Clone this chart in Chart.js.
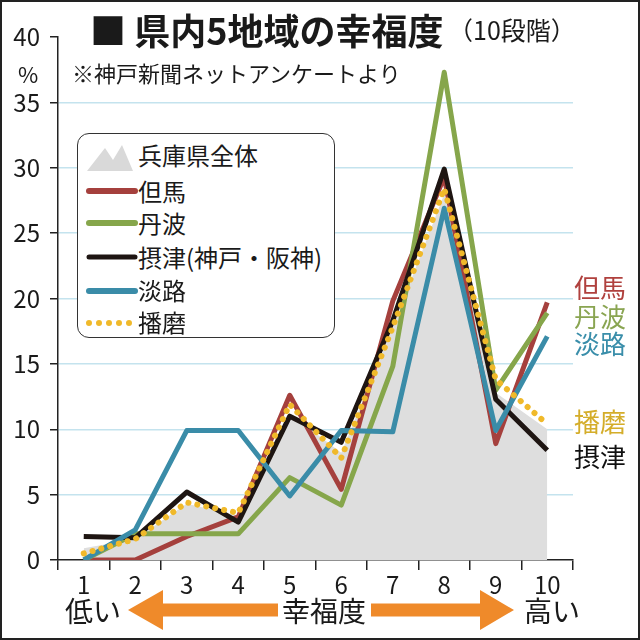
<!DOCTYPE html>
<html lang="ja">
<head>
<meta charset="utf-8">
<title>県内5地域の幸福度</title>
<script src="https://cdn.jsdelivr.net/npm/chart.js@4.4.1/dist/chart.umd.min.js"></script>
<style>
  body { margin: 0; background: #fff; font-family: "Noto Sans CJK JP", sans-serif; }
  #wrap { position: relative; width: 640px; height: 640px; overflow: hidden; background: #fff; }
  #chartBox { position: absolute; left: 0; top: 0; width: 640px; height: 640px; }
  .txt { position: absolute; white-space: nowrap; line-height: 1; color: #1a1a1a; }
  #frame { position: absolute; left: 0; top: 0; width: 636px; height: 636px; border: 2px solid #222; pointer-events: none; }
  #legend { position: absolute; left: 77px; top: 133px; width: 256px; height: 203px; border: 1.5px solid #333; border-radius: 12px; background: #fff; }
  svg { position: absolute; left: 0; top: 0; }
</style>
</head>
<body>
<div id="wrap">
  <div id="chartBox"><canvas id="chart"></canvas></div>

  <!-- titre et note -->
  <div class="txt" style="left:90px; top:11px; font-size:36px; font-weight:700;">■ 県内5地域の幸福度</div>
  <div class="txt" style="left:448px; top:17px; font-size:25px;">（10段階）</div>
  <div class="txt" style="left:72px; top:61px; font-size:22px;">※神戸新聞ネットアンケートより</div>
  <div class="txt" style="left:18px; top:62px; font-size:22px; font-family:'Liberation Sans Narrow','Noto Sans CJK JP',sans-serif;">%</div>

  <!-- légende -->
  <div id="legend"></div>
  <svg width="640" height="640" id="deco">
    <polygon points="87,171 105,148 113,160 122,145 133,171" fill="#d9d9d9"/>
    <line x1="89" y1="191" x2="135" y2="191" stroke="#a5403d" stroke-width="6" stroke-linecap="round"/>
    <line x1="89" y1="223" x2="135" y2="223" stroke="#86a64b" stroke-width="6" stroke-linecap="round"/>
    <line x1="89" y1="257" x2="135" y2="257" stroke="#1e1512" stroke-width="5" stroke-linecap="round"/>
    <line x1="89" y1="291" x2="135" y2="291" stroke="#3a8ca8" stroke-width="6" stroke-linecap="round"/>
    <line x1="89" y1="323" x2="131" y2="323" stroke="#f0b92a" stroke-width="6" stroke-linecap="round" stroke-dasharray="0 10"/>
    <!-- flèches -->
    <polygon points="128,610 163,590 163,603.5 278,603.5 278,616.5 163,616.5 163,630" fill="#ef8a2a"/>
    <polygon points="514,610 480,590 480,603.5 371,603.5 371,616.5 480,616.5 480,630" fill="#ef8a2a"/>
  </svg>
  <div class="txt" style="left:138px; top:143px; font-size:24px;">兵庫県全体</div>
  <div class="txt" style="left:138px; top:179px; font-size:24px;">但馬</div>
  <div class="txt" style="left:138px; top:211px; font-size:24px;">丹波</div>
  <div class="txt" style="left:138px; top:245px; font-size:24px;">摂津(神戸・阪神)</div>
  <div class="txt" style="left:138px; top:278px; font-size:24px;">淡路</div>
  <div class="txt" style="left:138px; top:310px; font-size:24px;">播磨</div>

  <!-- étiquettes à droite -->
  <div class="txt" style="left:574px; top:274px; font-size:26px; color:#b0413e;">但馬</div>
  <div class="txt" style="left:574px; top:303px; font-size:26px; color:#8aa552;">丹波</div>
  <div class="txt" style="left:574px; top:330px; font-size:26px; color:#3a8eaa;">淡路</div>
  <div class="txt" style="left:574px; top:408px; font-size:26px; color:#d4ad2a;">播磨</div>
  <div class="txt" style="left:574px; top:443px; font-size:26px; color:#111;">摂津</div>

  <!-- axe du bas -->
  <div class="txt" style="left:65px; top:596px; font-size:28px;">低い</div>
  <div class="txt" style="left:282px; top:596px; font-size:28px;">幸福度</div>
  <div class="txt" style="left:524px; top:596px; font-size:28px;">高い</div>

  <div id="frame"></div>
</div>

<script>
// données (%)
const labels = ['1', '2', '3', '4', '5', '6', '7', '8', '9', '10'];
const hyogo  = [0.9, 1.6, 4.3, 3.4, 11.2, 8.2, 17.8, 28.0, 12.8, 10.0];
const tajima = [0, 0, 1.8, 3.3, 12.6, 5.4, 19.8, 29.3, 8.9, 19.7];
const tamba  = [0, 2.0, 2.0, 2.0, 6.3, 4.2, 14.8, 37.3, 13.0, 18.9];
const settsu = [1.8, 1.7, 5.2, 2.9, 11.0, 9.0, 18.3, 29.9, 12.3, 8.4];
const awaji  = [0, 2.3, 9.9, 9.9, 4.9, 9.9, 9.8, 26.9, 9.9, 17.1];
const harima = [0.5, 1.6, 4.4, 3.6, 11.9, 7.8, 17.8, 28.4, 13.8, 10.4];
const yMax = 40;
const yStep = 5;

const numFont = '"Liberation Sans Narrow", "Noto Sans CJK JP", sans-serif';

function lineSet(label, data, color, order) {
    return {
        label: label,
        data: data,
        borderColor: color,
        borderWidth: 5,
        pointRadius: 0,
        tension: 0,
        fill: false,
        borderJoinStyle: 'round',
        order: order
    };
}

const ctx = document.getElementById('chart').getContext('2d');

new Chart(ctx, {
    type: 'line',
    data: {
        labels: labels,
        datasets: [
            {
                label: '兵庫県全体',
                data: hyogo,
                borderWidth: 0,
                borderColor: 'rgba(0,0,0,0)',
                backgroundColor: '#dedede',
                pointRadius: 0,
                tension: 0,
                fill: 'origin',
                order: 6
            },
            lineSet('但馬', tajima, '#a5403d', 5),
            lineSet('丹波', tamba, '#86a64b', 4),
            lineSet('摂津(神戸・阪神)', settsu, '#1e1512', 3),
            lineSet('淡路', awaji, '#3a8ca8', 2),
            Object.assign(lineSet('播磨', harima, '#f0b92a', 1), {
                borderWidth: 6,
                borderDash: [0.1, 9],
                borderCapStyle: 'round'
            })
        ]
    },
    options: {
        responsive: true,
        maintainAspectRatio: false,
        animation: false,
        layout: { padding: { top: 37, right: 67, left: 0, bottom: 0 } },
        plugins: {
            legend: { display: false },
            tooltip: { enabled: false }
        },
        scales: {
            x: {
                offset: true,
                afterFit: function(s) { s.height = 80; },
                grid: {
                    offset: true,
                    drawOnChartArea: false,
                    color: '#222',
                    lineWidth: 1.5,
                    tickLength: 10
                },
                border: { display: true, color: '#222', width: 1.5 },
                ticks: {
                    color: '#1a1a1a',
                    padding: 0,
                    maxRotation: 0,
                    font: { family: numFont, size: 24 }
                }
            },
            y: {
                min: 0,
                max: yMax,
                afterFit: function(s) { s.width = 58; },
                grid: {
                    color: function(c) {
                        const v = c.tick ? c.tick.value : 0;
                        return (v === 0 || v === yMax) ? 'rgba(0,0,0,0)' : '#c4e3ee';
                    },
                    tickColor: '#222',
                    lineWidth: 1.5,
                    tickLength: 8
                },
                border: { display: true, color: '#222', width: 1.5 },
                ticks: {
                    stepSize: yStep,
                    color: '#1a1a1a',
                    padding: 10,
                    font: { family: numFont, size: 24 }
                }
            }
        }
    }
});
</script>
</body>
</html>
